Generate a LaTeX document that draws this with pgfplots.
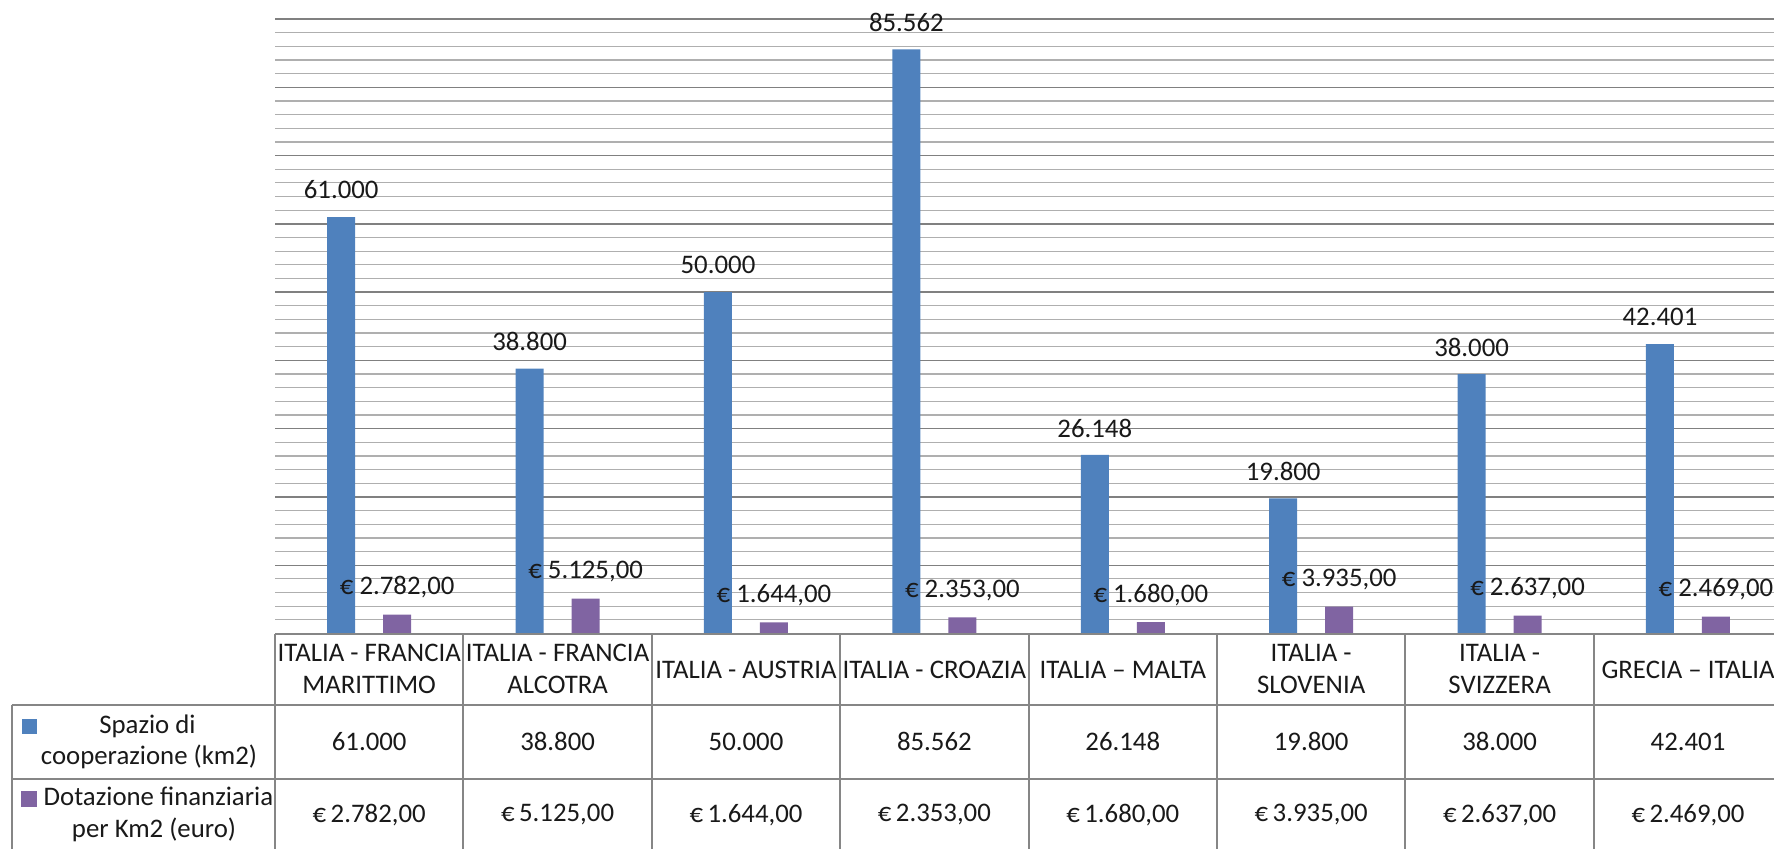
\documentclass[border=0pt]{standalone}
\usepackage{fontspec}
\setmainfont{Carlito}
\usepackage{pgfplots}
\pgfplotsset{compat=1.18}
\usepackage{pgfplotstable}

\definecolor{spazio}{RGB}{79,129,189}
\definecolor{dotaz}{RGB}{128,100,162}
\definecolor{majgrid}{RGB}{128,128,128}
\definecolor{mingrid}{RGB}{175,175,175}
\definecolor{tabline}{RGB}{134,134,134}

% Spazio di cooperazione (km2)
\pgfplotstableread{
x y label
0 61000 61.000
1 38800 38.800
2 50000 50.000
3 85562 85.562
4 26148 26.148
5 19800 19.800
6 38000 38.000
7 42401 42.401
}\spazio

% Dotazione finanziaria per Km2 (euro)
\pgfplotstableread{
x y label
0 2782 {€ 2.782,00}
1 5125 {€ 5.125,00}
2 1644 {€ 1.644,00}
3 2353 {€ 2.353,00}
4 1680 {€ 1.680,00}
5 3935 {€ 3.935,00}
6 2637 {€ 2.637,00}
7 2469 {€ 2.469,00}
}\dotazione

\newcommand{\lbl}{\fontsize{13.4}{15}\selectfont}

\begin{document}
\begin{tikzpicture}
\path[use as bounding box] (0,0) rectangle (887pt,-424pt);
\begin{axis}[
    at={(137.5pt,-316.75pt)}, anchor=south west,
    scale only axis, width=753.6pt, height=307.25pt,
    xmin=-0.5, xmax=7.5, ymin=0, ymax=90000,
    ybar, clip=false,
    xtick=\empty,
    ytick={0,10000,...,90000}, minor y tick num=4,
    yticklabels={}, scaled y ticks=false,
    major tick length=0pt, minor tick length=0pt,
    axis line style={draw=none},
    ymajorgrids, yminorgrids,
    major grid style={draw=majgrid, line width=0.7pt},
    minor grid style={draw=mingrid, line width=0.6pt},
    nodes near coords,
    point meta=explicit symbolic,
    every node near coord/.style={anchor=center, yshift=13.5pt, font=\lbl, text=black!90},
]
\addplot[fill=spazio, draw=none, bar width=14pt, bar shift=-14pt,
    every node near coord/.append style={xshift=-14pt}]
    table[x=x, y=y, meta=label]{\spazio};
\addplot[fill=dotaz, draw=none, bar width=14pt, bar shift=14pt,
    every node near coord/.append style={xshift=14pt}]
    table[x=x, y=y, meta=label]{\dotazione};
\end{axis}

% data table below the chart (px units from top left)
\begin{scope}[x=0.5pt, y=-0.5pt, font=\lbl, text=black!90]
\draw[tabline, line width=1pt] (275,633.5) -- (1800,633.5);
\draw[tabline, line width=1pt] (11.5,705) -- (1800,705);
\draw[tabline, line width=1pt] (11.5,778.5) -- (1800,778.5);
\draw[tabline, line width=1pt] (11.5,705) -- (11.5,860);
\foreach \k in {0,...,8}
  \draw[tabline, line width=1pt] ({275+188.4*\k},633.5) -- ({275+188.4*\k},860);

\foreach \k/\a/\b in {0/ITALIA - FRANCIA/MARITTIMO, 1/ITALIA - FRANCIA/ALCOTRA,
                      5/ITALIA -/SLOVENIA, 6/ITALIA -/SVIZZERA} {
  \node at ({275+188.4*(\k+0.5)},653) {\a};
  \node at ({275+188.4*(\k+0.5)},685) {\b};
}
\foreach \k/\a in {2/ITALIA - AUSTRIA, 3/ITALIA - CROAZIA, 4/ITALIA – MALTA, 7/GRECIA – ITALIA}
  \node at ({275+188.4*(\k+0.5)},670) {\a};

\foreach \k/\a in {0/61.000, 1/38.800, 2/50.000, 3/85.562, 4/26.148, 5/19.800, 6/38.000, 7/42.401}
  \node at ({275+188.4*(\k+0.5)},741.7) {\a};
\foreach \k/\a in {0/{2.782,00}, 1/{5.125,00}, 2/{1.644,00}, 3/{2.353,00},
                   4/{1.680,00}, 5/{3.935,00}, 6/{2.637,00}, 7/{2.469,00}}
  \node at ({275+188.4*(\k+0.5)},815) {€\,\a};

\fill[spazio] (21.7,719.3) rectangle (36.7,734.3);
\node at (147.5,726.7) {Spazio di};
\node at (149,756.7) {cooperazione (km2)};
\fill[dotaz] (20.5,791) rectangle (36.5,807);
\node at (158.5,796.7) {Dotazione finanziaria};
\node at (154,830) {per Km2 (euro)};
\end{scope}
\end{tikzpicture}
\end{document}
